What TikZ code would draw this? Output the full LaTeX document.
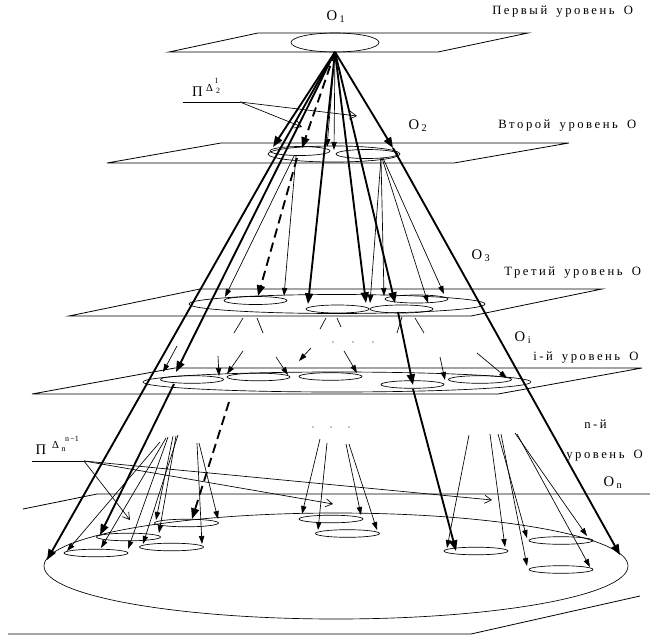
\documentclass[tikz,border=0pt]{standalone}
\usepackage{fontspec}
\setmainfont{Liberation Serif}
\newfontfamily\spaced[LetterSpace=20,WordSpace=1.6]{Liberation Serif}
\usetikzlibrary{arrows.meta}

\begin{document}
\begin{tikzpicture}[x=0.75pt,y=-0.75pt,
    plane/.style={draw=black, line width=0.6pt},
    ring/.style={draw=black, line width=0.5pt},
    arr/.style={-{Triangle[length=6pt,width=4pt]}, line width=0.5pt},
    thk/.style={-{Triangle[length=8pt,width=6pt]}, line width=1.4pt},
    dsh/.style={thk, dash pattern=on 7pt off 4pt},
    ptr/.style={-{Straight Barb[length=5pt,width=6pt]}, line width=0.5pt},
    lvl/.style={font=\fontsize{9.5}{10}\selectfont\spaced, anchor=west, inner sep=0pt},
    obj/.style={font=\fontsize{11}{12}\selectfont, inner sep=0pt},
    sup/.style={font=\fontsize{8}{8}\selectfont, inner sep=0pt},
    idx/.style={font=\fontsize{6}{6}\selectfont, inner sep=0pt}
  ]
  \useasboundingbox (0,0) rectangle (650,639);

  % planes
  \draw[plane] (169,52) -- (258,33) -- (528,33) -- (438,52) -- cycle;
  \draw[plane] (107,163) -- (221,143) -- (569,143) -- (454,163) -- cycle;
  \draw[plane] (69,316) -- (200,289) -- (602,289) -- (471,316) -- cycle;
  \draw[plane] (32,394) -- (175,368) -- (642,368) -- (498,394) -- cycle;
  \draw[plane] (23,509) -- (97,494) -- (650,494);
  \draw[plane] (8,634) -- (471,634) -- (640,596);

  % level sets
  \draw[ring] (335,42.5) ellipse [x radius=44, y radius=9.5];
  \draw[ring] (334,154) ellipse [x radius=66, y radius=8];
  \draw[ring] (300,151) ellipse [x radius=30, y radius=4.5];
  \draw[ring] (367,154) ellipse [x radius=31, y radius=4.5];
  \draw[ring] (337,304) ellipse [x radius=148, y radius=9.5];
  \foreach \cx/\cy in {255.5/300.5, 337.5/309, 401.5/309, 416.5/299}
    \draw[ring] (\cx,\cy) ellipse [x radius=31.5, y radius=4];
  \draw[ring] (337,382) ellipse [x radius=194, y radius=10];
  \foreach \cx/\cy in {192/379.5, 258.5/377, 330.5/376.5, 412.5/384.5, 480/379.5}
    \draw[ring] (\cx,\cy) ellipse [x radius=31.5, y radius=3.8];
  \draw[ring] (336,566) ellipse [x radius=292, y radius=53];
  \foreach \cx/\cy in {96/553, 128.5/537, 171.5/547, 186.5/523, 331/519,
                       347.5/533.5, 476/551, 561/540.5, 561/569.5}
    \draw[ring] (\cx,\cy) ellipse [x radius=32, y radius=3.8];

  % labels
  \node[obj] (o1) at (336,17) {O\,\textsubscript{1}};
  \node[obj] (o2) at (418,126) {O\,\textsubscript{2}};
  \node[obj] (o3) at (481,256) {O\,\textsubscript{3}};
  \node[obj] (oi) at (523,338) {O\,\textsubscript{i}};
  \node[obj] (on) at (613,483) {O\,\textsubscript{n}};
  \node[lvl] (l1) at (492,12) {Первый уровень О};
  \node[lvl] (l2) at (498,126) {Второй уровень О};
  \node[lvl] (l3) at (504,273) {Третий уровень О};
  \node[lvl] (li) at (533,358) {i-й уровень О};
  \node[lvl] (ln) at (584,424) {n-й};
  \node[lvl] (lu) at (566,456) {уровень О};
  \node[obj] (p2) at (197.5,91.5) {Π};
  \node[sup] (d2) at (209.5,87.5) {Δ};
  \node[idx] (d2t) at (216.5,80.5) {1};
  \node[idx] (d2b) at (218,90.5) {2};
  \node[obj] (pn) at (41,450) {Π};
  \node[sup] (dn) at (55.5,445) {Δ};
  \node[idx] (dnt) at (72,438.5) {n\,−1};
  \node[idx] (dnb) at (63.5,449.5) {n};

  % pointers
  \coordinate (k2) at (240,102);
  \draw[line width=0.5pt] (183,102) -- (k2);
  \draw[ptr] (k2) -- (357,116);
  \draw[ptr] (k2) -- (302,127);
  \coordinate (kn) at (84,461);
  \draw[line width=0.5pt] (32,461) -- (kn);
  \draw[ptr] (kn) -- (130,520);
  \draw[ptr] (kn) -- (333,504);
  \draw[ptr] (kn) -- (492,500);

  % first level -> below
  \coordinate (apex) at (335,52);
  \draw[thk] (apex) -- (47,560);
  \draw[thk] (apex) -- (176,372);
  \draw[thk] (174,384) -- (100,535);
  \draw[thk] (apex) -- (273,147);
  \draw[dsh] (apex) -- (302,148);
  \draw[arr] (apex) -- (327,147);
  \draw[arr] (apex) -- (334,150);
  \draw[thk] (apex) -- (308,304);
  \draw[thk] (apex) -- (366,303);
  \draw[thk] (apex) -- (395,303);
  \draw[thk] (apex) -- (393,148);
  \draw[thk] (393,148) -- (620,555);
  \draw[thk] (398,312) -- (413,385);
  \draw[thk] (413,389) -- (456,551);

  % second level -> third level
  \draw[dsh] (297,158) -- (258,296);
  \draw[arr] (294,156) -- (225,297);
  \draw[arr] (296,156) -- (284,296);
  \draw[arr] (381,158) -- (370,303);
  \draw[arr] (381,158) -- (384,296);
  \draw[arr] (382,158) -- (428,303);
  \draw[arr] (383,158) -- (444,294);

  % third level -> i-th level
  \foreach \ax/\ay/\bx/\by in {243/318/234/333, 257/318/263/333, 326/318/320/329,
                               337/318/341/327, 402/317/397/333, 415/318/424/333}
    \draw[line width=0.5pt] (\ax,\ay) -- (\bx,\by);
  \foreach \dx in {333,353,373}
    \fill (\dx,342) circle [radius=0.7];
  \foreach \ax/\ay/\bx/\by in {177/346/163/372, 218/356/219/376, 243/351/227/374,
                               276/357/288/375, 311/348/299/361, 344/351/357/373,
                               440/357/445/380, 477/353/507/378}
    \draw[arr] (\ax,\ay) -- (\bx,\by);

  % i-th level -> n-th level
  \draw[dsh] (229,402) -- (192,519);
  \foreach \dx in {313,331,349}
    \fill (\dx,427) circle [radius=0.7];
  \foreach \ax/\ay/\bx/\by in {160/442/67/551, 166/438/101/548, 168/437/128/549,
                               173/436/156/520, 176/436/159/533, 178/435/143/544,
                               197/443/202/544, 199/443/218/519,
                               320/439/302/514, 327/443/318/530, 346/444/361/515,
                               349/444/377/530,
                               469/435/447/548, 490/434/505/547, 498/434/527/538,
                               501/434/527/566, 515/433/587/536, 517/434/590/567}
    \draw[arr] (\ax,\ay) -- (\bx,\by);
\end{tikzpicture}
\end{document}
